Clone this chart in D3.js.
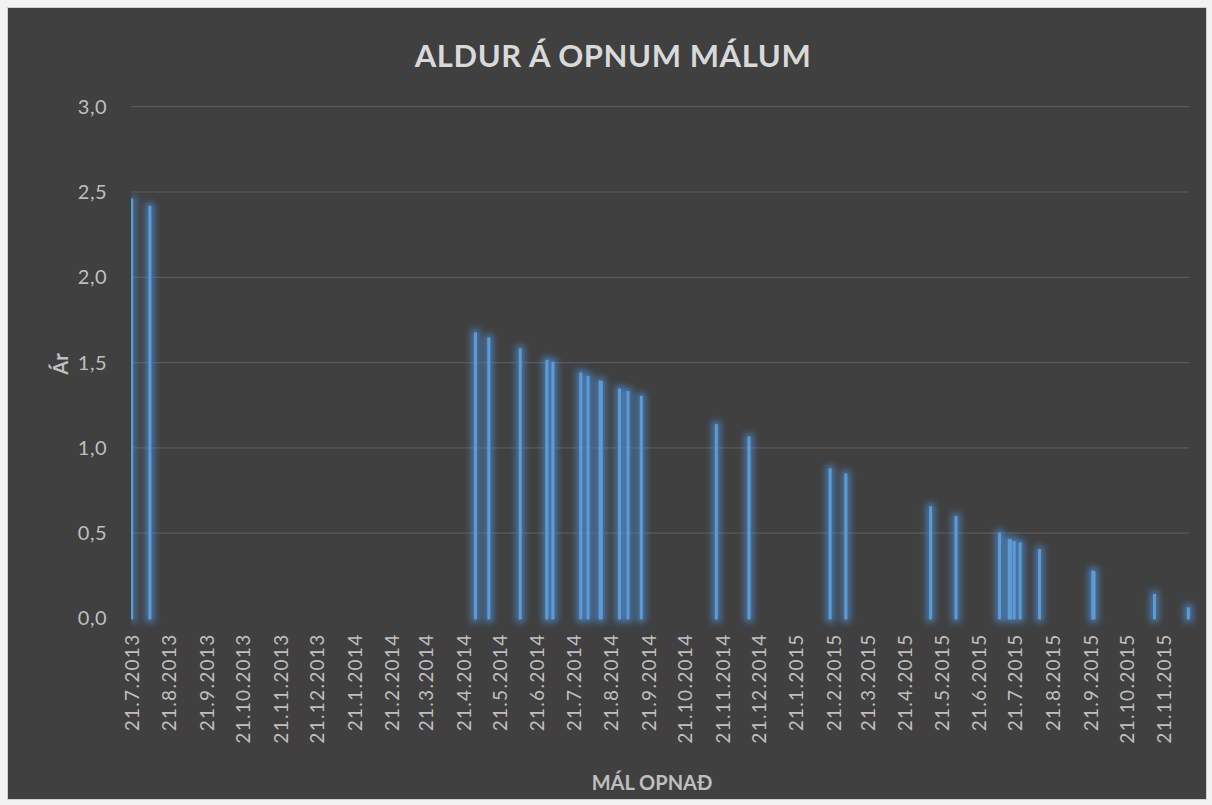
<!DOCTYPE html>
<html>
<head>
<meta charset="utf-8">
<script src="https://cdn.jsdelivr.net/npm/d3@7"></script>
<style>
  html, body { margin: 0; padding: 0; background: #f2f2f2; }
  svg { display: block; font-family: Lato, "Open Sans", sans-serif; }
</style>
</head>
<body>
<div id="chart"></div>
<script>
// dates each case was opened, and its age in years
const openDates = [
  "2013-07-21", "2013-08-05",
  "2014-05-01", "2014-05-12", "2014-06-07", "2014-06-29", "2014-07-04",
  "2014-07-27", "2014-08-02", "2014-08-12", "2014-08-13", "2014-08-28",
  "2014-09-04", "2014-09-15", "2014-11-16", "2014-12-13",
  "2015-02-18", "2015-03-03", "2015-05-12", "2015-06-02", "2015-07-08",
  "2015-07-16", "2015-07-17", "2015-07-20", "2015-07-25", "2015-08-10",
  "2015-09-23", "2015-09-24", "2015-11-13", "2015-12-11"
];
const ageYears = [
  2.457, 2.414,
  1.672, 1.642, 1.578, 1.511, 1.499,
  1.437, 1.417, 1.390, 1.386, 1.343,
  1.329, 1.300, 1.134, 1.062,
  0.875, 0.845, 0.652, 0.595, 0.499,
  0.462, 0.458, 0.449, 0.440, 0.402,
  0.276, 0.272, 0.138, 0.060
];
const tickDates = [
  "2013-07-21", "2013-08-21", "2013-09-21", "2013-10-21", "2013-11-21", "2013-12-21",
  "2014-01-21", "2014-02-21", "2014-03-21", "2014-04-21", "2014-05-21", "2014-06-21",
  "2014-07-21", "2014-08-21", "2014-09-21", "2014-10-21", "2014-11-21", "2014-12-21",
  "2015-01-21", "2015-02-21", "2015-03-21", "2015-04-21", "2015-05-21", "2015-06-21",
  "2015-07-21", "2015-08-21", "2015-09-21", "2015-10-21", "2015-11-21"
];
const yTicks = [0, 0.5, 1.0, 1.5, 2.0, 2.5, 3.0];

const parse = d3.utcParse("%Y-%m-%d");
const data = openDates.map((d, i) => ({ date: parse(d), value: ageYears[i] }));

const width = 1212;
const height = 805;
const margin = { top: 106.7, right: 23, bottom: 186.5, left: 131.1 };
const innerWidth = width - margin.left - margin.right;
const innerHeight = height - margin.top - margin.bottom;

const textColor = "#bfbfbf";
const barBlue = "#5b9bd5";

// half a day either side, as Excel centres each bar in its day slot
const xScale = d3.scaleUtc()
  .domain([d3.utcHour.offset(parse("2013-07-21"), -12), d3.utcHour.offset(parse("2015-12-11"), 12)])
  .range([0, innerWidth]);

const yScale = d3.scaleLinear()
  .domain([0, 3])
  .range([innerHeight, 0]);

const svg = d3.select("#chart")
  .append("svg")
  .attr("width", width)
  .attr("height", height);

// glow behind bars
const filter = svg.append("defs").append("filter")
  .attr("id", "glow")
  .attr("filterUnits", "userSpaceOnUse")
  .attr("x", 0).attr("y", 0).attr("width", width).attr("height", height);
filter.append("feMorphology").attr("in", "SourceAlpha").attr("operator", "dilate").attr("radius", 2.5).attr("result", "dil");
filter.append("feGaussianBlur").attr("in", "dil").attr("stdDeviation", 3.2).attr("result", "blur");
filter.append("feFlood").attr("flood-color", "#4a86c6").attr("flood-opacity", 0.75);
filter.append("feComposite").attr("in2", "blur").attr("operator", "in").attr("result", "glowOut");
const merge = filter.append("feMerge");
merge.append("feMergeNode").attr("in", "glowOut");
merge.append("feMergeNode").attr("in", "SourceGraphic");

// chart area background
svg.append("rect")
  .attr("x", 7.5).attr("y", 7.5)
  .attr("width", width - 13).attr("height", height - 13)
  .attr("fill", "#404040")
  .attr("stroke", "#d0d0d0");

const innerChart = svg.append("g")
  .attr("transform", `translate(${margin.left},${margin.top})`);

// gridlines
innerChart.append("g")
  .selectAll("line")
  .data(yTicks.filter(d => d > 0))
  .join("line")
    .attr("x1", 0)
    .attr("x2", innerWidth)
    .attr("y1", d => yScale(d))
    .attr("y2", d => yScale(d))
    .attr("stroke", "#5a5a5a")
    .attr("stroke-width", 1.2);

// y axis
const leftAxis = d3.axisLeft(yScale)
  .tickValues(yTicks)
  .tickSize(0)
  .tickPadding(24)
  .tickFormat(d => d3.format(".1f")(d).replace(".", ","));
const yAxisG = innerChart.append("g").call(leftAxis);
yAxisG.select(".domain").remove();
yAxisG.selectAll("text")
  .attr("fill", textColor)
  .style("font-size", "20px")
  .style("letter-spacing", "0.5px")
  .style("font-family", "Lato, sans-serif");

// x axis
const bottomAxis = d3.axisBottom(xScale)
  .tickValues(tickDates.map(parse))
  .tickSize(0)
  .tickFormat(d3.utcFormat("%-d.%-m.%Y"));
const xAxisG = innerChart.append("g")
  .attr("transform", `translate(0,${innerHeight})`)
  .call(bottomAxis);
xAxisG.select(".domain").remove();
xAxisG.selectAll("text")
  .attr("fill", textColor)
  .style("font-size", "19px")
  .style("letter-spacing", "1.3px")
  .style("font-family", "Lato, sans-serif")
  .attr("transform", "rotate(-90)")
  .attr("text-anchor", "end")
  .attr("x", -15)
  .attr("y", 0)
  .attr("dy", "0.35em");

// bars
const dayW = xScale(parse("2014-01-02")) - xScale(parse("2014-01-01"));
const bars = innerChart.append("g").attr("filter", "url(#glow)");
bars.selectAll("rect")
  .data(data)
  .join("rect")
    .attr("x", d => xScale(d.date) - dayW / 2)
    .attr("y", d => yScale(d.value))
    .attr("width", dayW)
    .attr("height", d => innerHeight - yScale(d.value))
    .attr("fill", "#a9cef2")
    .attr("stroke", barBlue)
    .attr("stroke-width", 1.8);

// titles
svg.append("text")
  .attr("x", 613)
  .attr("y", 67)
  .attr("text-anchor", "middle")
  .attr("fill", "#d9d9d9")
  .style("font-size", "31px")
  .style("letter-spacing", "0.6px")
  .style("font-weight", "bold")
  .text("ALDUR Á OPNUM MÁLUM");

svg.append("text")
  .attr("transform", "translate(68,364) rotate(-90)")
  .attr("text-anchor", "middle")
  .attr("fill", textColor)
  .style("font-size", "20px")
  .style("font-weight", "bold")
  .text("Ár");

svg.append("text")
  .attr("x", 652)
  .attr("y", 790)
  .attr("text-anchor", "middle")
  .attr("fill", textColor)
  .style("font-size", "20px")
  .style("font-weight", "bold")
  .text("MÁL OPNAÐ");
</script>
</body>
</html>
